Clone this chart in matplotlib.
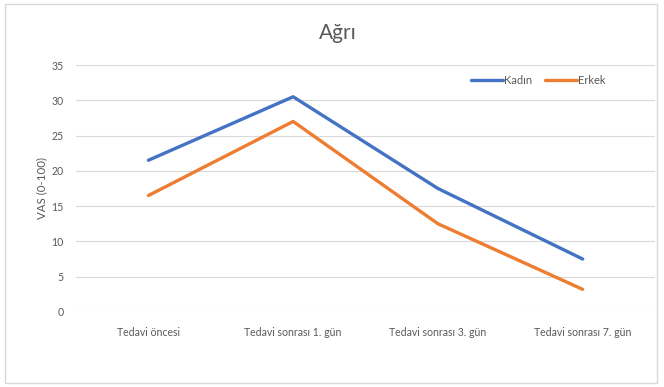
import matplotlib.pyplot as plt
from matplotlib.patches import Rectangle

plt.rcParams['font.family'] = ['Lato', 'DejaVu Sans']

categories = ["Tedavi öncesi", "Tedavi sonrası 1. gün",
              "Tedavi sonrası 3. gün", "Tedavi sonrası 7. gün"]
kadin = [21.5, 30.5, 17.5, 7.5]
erkek = [16.5, 27.0, 12.5, 3.2]
y_ticks = [0, 5, 10, 15, 20, 25, 30, 35]

fig = plt.figure(figsize=(6.64, 3.87), dpi=100)
ax = fig.add_axes([0.1145, 0.194, 0.872, 0.638])

x = range(len(categories))
ax.plot(x, kadin, color="#4472C4", lw=2.4, label="Kadın", solid_capstyle="round")
ax.plot(x, erkek, color="#ED7D31", lw=2.4, label="Erkek", solid_capstyle="round")

ax.set_xlim(-0.5, 3.5)
ax.set_ylim(0, 35)
ax.set_yticks(y_ticks)
ax.set_xticks(list(x))
ax.set_xticklabels(categories)
ax.grid(axis="y", color="#d9d9d9", lw=0.8)
ax.set_axisbelow(True)
for s in ax.spines.values():
    s.set_visible(False)
ax.tick_params(length=0, colors="#595959", labelsize=7.6)
ax.tick_params(axis="x", pad=11)
ax.tick_params(axis="y", pad=9)
ax.set_ylabel("VAS (0-100)", color="#595959", fontsize=8.3, labelpad=3)

fig.text(0.509, 0.915, "Ağrı", ha="center", va="center", fontsize=15, color="#595959")

ax.legend(loc="center left", bbox_to_anchor=(471 / 664, 1 - 80 / 387),
          bbox_transform=fig.transFigure, ncol=2, frameon=False,
          borderpad=0, borderaxespad=0, fontsize=8, handlelength=2.9,
          handletextpad=0.1, columnspacing=1.1, labelcolor="#595959")

fig.patches.append(Rectangle((0.008, 0.01), 0.982, 0.98, transform=fig.transFigure,
                             fill=False, edgecolor="#d9d9d9", lw=1))

fig.savefig("out.png", dpi=100)
